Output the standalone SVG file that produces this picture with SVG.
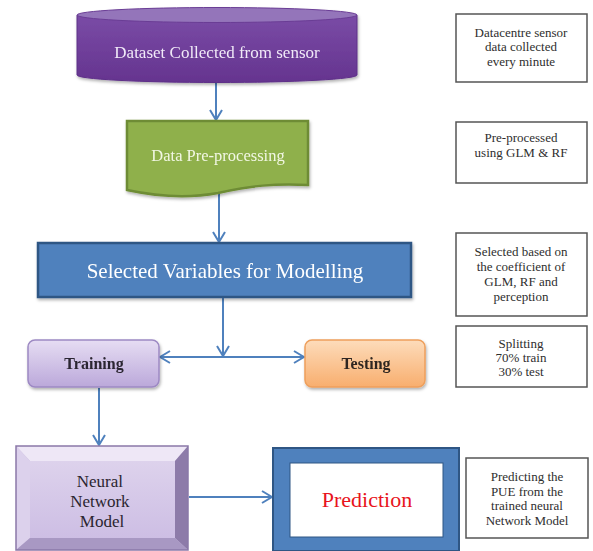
<svg xmlns="http://www.w3.org/2000/svg" width="593" height="551" viewBox="0 0 593 551">
  <defs>
    <style>
      .serif { font-family: "Liberation Serif", "DejaVu Serif", serif; }
      .conn { stroke: #4F81BD; stroke-width: 2; fill: none; }
      .note rect { fill: #ffffff; stroke: #555555; stroke-width: 1.5; }
      .note text { font-family: "Liberation Serif", "DejaVu Serif", serif; font-size: 13px; fill: #2E2E2E; text-anchor: middle; }
      .label { text-anchor: middle; }
    </style>
    <marker id="arrow" viewBox="0 0 12 14" refX="11" refY="7" markerWidth="12" markerHeight="14" markerUnits="userSpaceOnUse" orient="auto">
      <path d="M1,1 L11,7 L1,13" fill="none" stroke="#4F81BD" stroke-width="2"/>
    </marker>
    <filter id="shadow" x="-10%" y="-10%" width="120%" height="130%">
      <feDropShadow dx="1" dy="2" stdDeviation="1.5" flood-color="#000000" flood-opacity="0.3"/>
    </filter>
    <linearGradient id="cylBody" x1="0" y1="0" x2="0" y2="1">
      <stop offset="0" stop-color="#7A4BA6"/>
      <stop offset="1" stop-color="#65348F"/>
    </linearGradient>
    <linearGradient id="trainFill" x1="0" y1="0" x2="0" y2="1">
      <stop offset="0" stop-color="#E6DDF3"/>
      <stop offset="1" stop-color="#BBA8DA"/>
    </linearGradient>
    <linearGradient id="testFill" x1="0" y1="0" x2="0" y2="1">
      <stop offset="0" stop-color="#FDDCBB"/>
      <stop offset="1" stop-color="#F8AE6E"/>
    </linearGradient>
    <linearGradient id="nnFill" x1="0" y1="0" x2="0" y2="1">
      <stop offset="0" stop-color="#DDD2EC"/>
      <stop offset="1" stop-color="#CDBEE4"/>
    </linearGradient>
  </defs>

  <rect width="593" height="551" fill="#ffffff"/>

  <!-- connectors -->
  <g id="connectors">
    <line class="conn" x1="216" y1="82" x2="216" y2="120" marker-end="url(#arrow)"/>
    <line class="conn" x1="219" y1="193" x2="219" y2="242" marker-end="url(#arrow)"/>
    <line class="conn" x1="223" y1="298" x2="223" y2="356" marker-end="url(#arrow)"/>
    <line class="conn" x1="223" y1="357" x2="160" y2="357" marker-end="url(#arrow)"/>
    <line class="conn" x1="223" y1="357" x2="304" y2="357" marker-end="url(#arrow)"/>
    <line class="conn" x1="99" y1="388" x2="99" y2="445" marker-end="url(#arrow)"/>
    <line class="conn" x1="189" y1="497" x2="272" y2="497" marker-end="url(#arrow)"/>
  </g>

  <!-- dataset cylinder -->
  <g id="dataset" filter="url(#shadow)">
    <path d="M77,15 V75 A140,7.5 0 0 0 357,75 V15 Z" fill="url(#cylBody)" stroke="#5E3088" stroke-width="1"/>
    <ellipse cx="217" cy="15" rx="140" ry="7.5" fill="#9474BA" stroke="#6A3D95" stroke-width="1"/>
    <text class="serif label" x="217" y="58" font-size="17" fill="#F1EAF8">Dataset Collected from sensor</text>
  </g>

  <!-- pre-processing document shape -->
  <g id="preprocessing" filter="url(#shadow)">
    <path d="M127,121 H308 V185 C275,183 250,186 218,193 C185,199 155,196 127,190 Z" fill="#8FB04C" stroke="#6E8C35" stroke-width="2.5"/>
    <text class="serif label" x="218" y="161" font-size="16.5" fill="#F2F7E4">Data Pre-processing</text>
  </g>

  <!-- variable selection -->
  <g id="selected" filter="url(#shadow)">
    <rect x="38" y="243" width="373" height="54" fill="#4F81BD" stroke="#2F5684" stroke-width="2.5"/>
    <text class="serif label" x="225" y="278" font-size="21" fill="#FFFFFF">Selected Variables for Modelling</text>
  </g>

  <!-- training -->
  <g id="training" filter="url(#shadow)">
    <rect x="28" y="340" width="131" height="47" rx="7" fill="url(#trainFill)" stroke="#9D89C3" stroke-width="1.5"/>
    <text class="serif label" x="94" y="369" font-size="16" font-weight="bold" fill="#2B2530">Training</text>
  </g>

  <!-- testing -->
  <g id="testing" filter="url(#shadow)">
    <rect x="305" y="340" width="120" height="47" rx="7" fill="url(#testFill)" stroke="#EE9F5C" stroke-width="1.5"/>
    <text class="serif label" x="366" y="369" font-size="16" font-weight="bold" fill="#2E2620">Testing</text>
  </g>

  <!-- neural network bevel box -->
  <g id="neural-network">
    <rect x="16" y="446" width="172" height="104" fill="#C9BBDF"/>
    <polygon points="16,446 188,446 175,461 30,461" fill="#EEE7F6"/>
    <polygon points="16,446 30,461 30,538 16,550" fill="#DCD1EC"/>
    <polygon points="188,446 188,550 175,538 175,461" fill="#8D7BA9"/>
    <polygon points="16,550 188,550 175,538 30,538" fill="#A898C3"/>
    <rect x="30" y="461" width="145" height="77" fill="url(#nnFill)"/>
    <rect x="16" y="446" width="172" height="104" fill="none" stroke="#8A78A8" stroke-width="1.5"/>
    <text class="serif label" font-size="17" fill="#2B2530">
      <tspan x="102" y="487">Neural</tspan>
      <tspan x="102" y="507">Network</tspan>
      <tspan x="102" y="527">Model</tspan>
    </text>
  </g>

  <!-- prediction -->
  <g id="prediction">
    <rect x="273" y="448" width="186" height="103" fill="#4F81BD" stroke="#2F5684" stroke-width="2"/>
    <rect x="290" y="463" width="153" height="74" fill="#FFFFFF" stroke="#2F5684" stroke-width="1"/>
    <text class="serif label" x="367" y="507" font-size="22" fill="#E8141C">Prediction</text>
  </g>

  <!-- side notes -->
  <g id="note-dataset" class="note">
    <rect x="456" y="14" width="131" height="68"/>
    <text><tspan x="521" y="37">Datacentre sensor</tspan><tspan x="521" y="51">data collected</tspan><tspan x="521" y="66">every minute</tspan></text>
  </g>
  <g id="note-preprocessing" class="note">
    <rect x="456" y="122" width="131" height="61"/>
    <text><tspan x="521" y="142">Pre-processed</tspan><tspan x="521" y="157">using GLM &amp; RF</tspan></text>
  </g>
  <g id="note-selected" class="note">
    <rect x="456" y="233" width="131" height="83"/>
    <text><tspan x="521" y="256">Selected based on</tspan><tspan x="521" y="271">the coefficient of</tspan><tspan x="521" y="286">GLM, RF and</tspan><tspan x="521" y="301">perception</tspan></text>
  </g>
  <g id="note-splitting" class="note">
    <rect x="456" y="326" width="131" height="61"/>
    <text><tspan x="521" y="348">Splitting</tspan><tspan x="521" y="362">70% train</tspan><tspan x="521" y="376">30% test</tspan></text>
  </g>
  <g id="note-prediction" class="note">
    <rect x="466" y="458" width="122" height="80"/>
    <text><tspan x="527" y="481">Predicting the</tspan><tspan x="527" y="496">PUE from the</tspan><tspan x="527" y="510">trained neural</tspan><tspan x="527" y="525">Network Model</tspan></text>
  </g>
</svg>
